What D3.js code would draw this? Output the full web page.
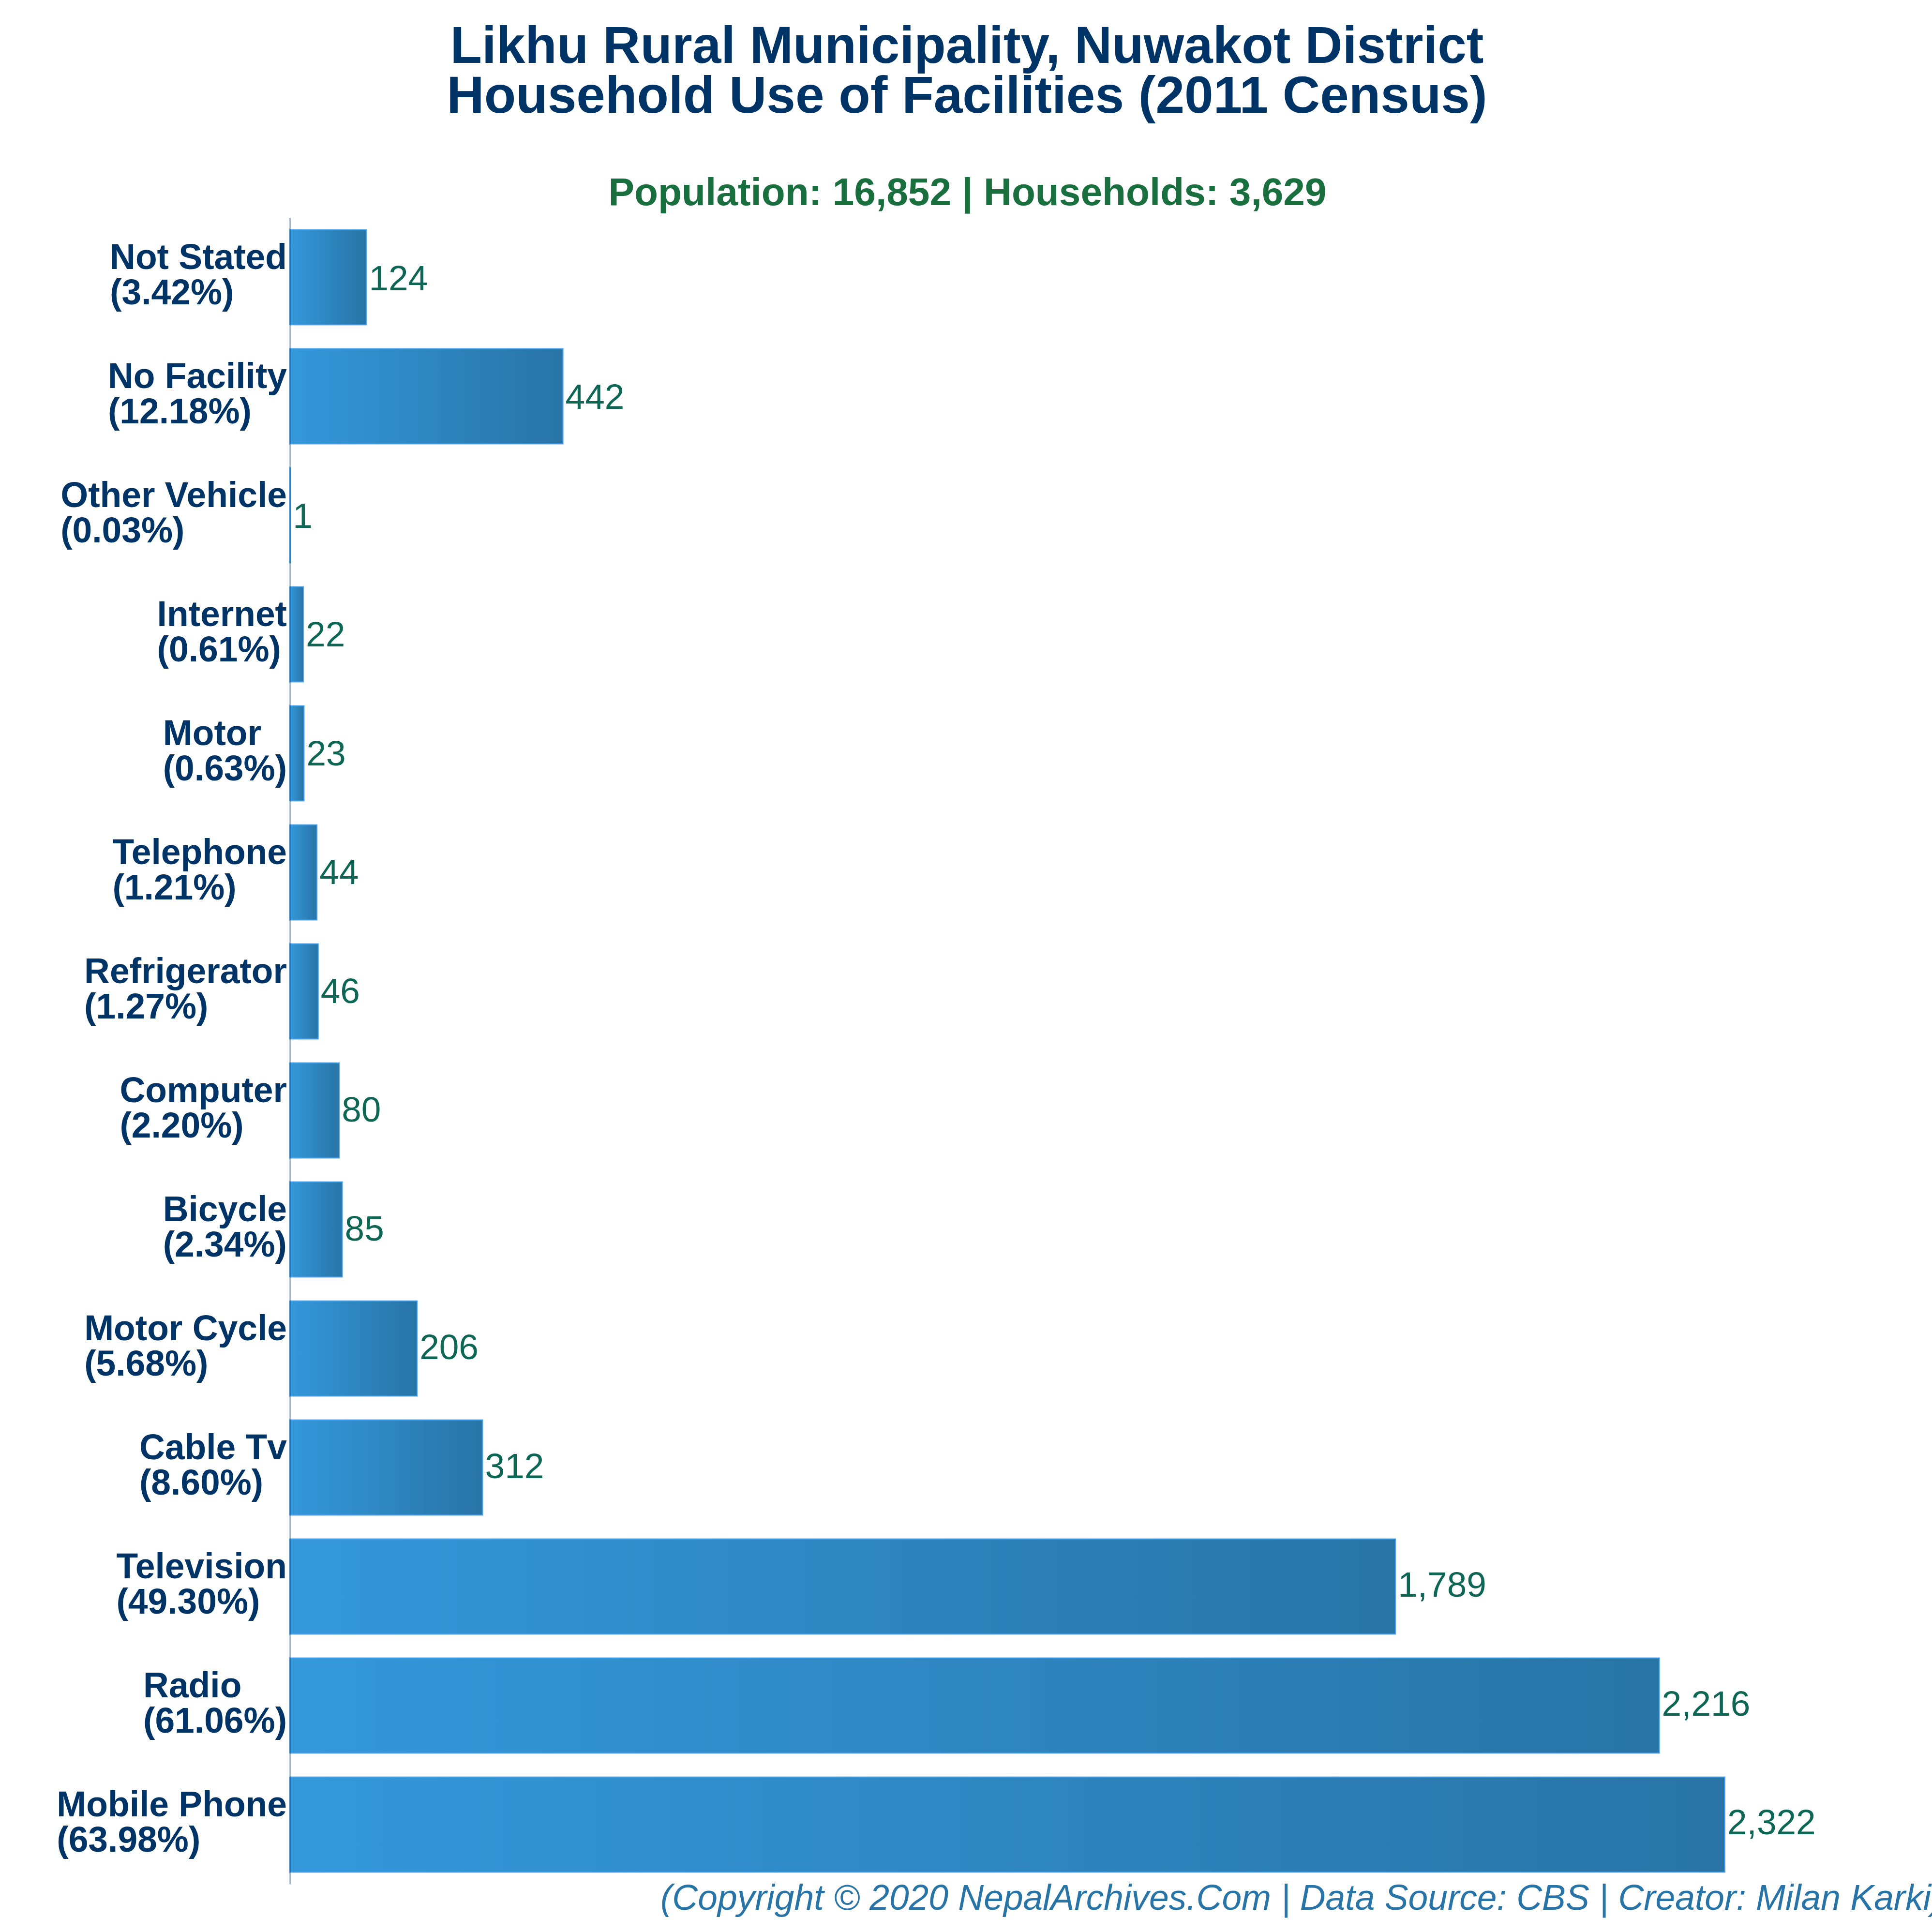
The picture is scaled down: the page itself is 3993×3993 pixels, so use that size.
<!DOCTYPE html>
<html>
<head>
<meta charset="utf-8">
<script src="https://cdn.jsdelivr.net/npm/d3@7"></script>
<style>
html,body{margin:0;padding:0;background:#fff;overflow:hidden}
svg{display:block}
text{font-family:"Liberation Sans",Arial,sans-serif}
</style>
</head>
<body>
<script>
const titleLines = ["Likhu Rural Municipality, Nuwakot District","Household Use of Facilities (2011 Census)"];
const subtitle = "Population: 16,852 | Households: 3,629";
const credit = "(Copyright © 2020 NepalArchives.Com | Data Source: CBS | Creator: Milan Karki)";
const categories = ["Not Stated","No Facility","Other Vehicle","Internet","Motor","Telephone","Refrigerator","Computer","Bicycle","Motor Cycle","Cable Tv","Television","Radio","Mobile Phone"];
const values = [124,442,1,22,23,44,46,80,85,206,312,1789,2216,2322];
const percents = ["3.42","12.18","0.03","0.61","0.63","1.21","1.27","2.20","2.34","5.68","8.60","49.30","61.06","63.98"];

const W = 3993, H = 3993;
const left = 599, top_ = 450, bottom = 3894;
const svg = d3.select("body").append("svg").attr("width",W).attr("height",H).attr("viewBox",`0 0 ${W} ${H}`);

const defs = svg.append("defs");
const grad = defs.append("linearGradient").attr("id","barGrad").attr("x1","0%").attr("x2","100%").attr("y1","0%").attr("y2","0%");
grad.append("stop").attr("offset","0%").attr("stop-color","#3498db");
grad.append("stop").attr("offset","100%").attr("stop-color","#2874a6");

const x = d3.scaleLinear().domain([0,2322]).range([left,3565]);
const y = d3.scaleBand().domain(categories).range([top_,bottom]).paddingInner(0.2).paddingOuter(0.1);
const yLabel = d3.scalePoint().domain(categories).range([599.5,3791.4]);

svg.selectAll("rect.bar").data(values).join("rect").attr("class","bar")
  .attr("x",x(0))
  .attr("y",(d,i)=>y(categories[i]))
  .attr("width",d=>x(d)-x(0))
  .attr("height",y.bandwidth())
  .attr("fill","url(#barGrad)")
  .attr("stroke","#4da6f0").attr("stroke-width",2);

const fmt = d3.format(",");
svg.selectAll("text.val").data(values).join("text").attr("class","val")
  .attr("x",d=>x(d)+5)
  .attr("y",(d,i)=>yLabel(categories[i]))
  .attr("font-size",73).attr("fill","#0e6655")
  .text(d=>fmt(d));

const axis = svg.append("g").attr("transform",`translate(${left},0)`)
  .call(d3.axisLeft(y).tickSize(0).tickPadding(6));
axis.select(".domain").attr("stroke","#0a3a6b").attr("stroke-width",1.6);
axis.selectAll(".tick text").each(function(c){
  const i = categories.indexOf(c);
  const t = d3.select(this).attr("font-size",73.2).attr("font-weight","bold").attr("fill","#003366")
    .attr("font-family",'"Liberation Sans",Arial,sans-serif').attr("dy",null).attr("text-anchor","start").text(null);
  const l1 = t.append("tspan").text(c);
  const l2 = t.append("tspan").text(`(${percents[i]}%)`);
  const w = Math.max(l1.node().getComputedTextLength(), l2.node().getComputedTextLength());
  l1.attr("x",-6-w).attr("y",-17);
  l2.attr("x",-6-w).attr("y",56);
});

const title = svg.append("text").attr("text-anchor","middle").attr("font-size",107.2)
  .attr("font-weight","bold").attr("fill","#003366");
title.selectAll("tspan").data(titleLines).join("tspan")
  .attr("x",W/2+2).attr("y",(d,i)=>130+i*103).text(d=>d);

svg.append("text").attr("x",W/2+3).attr("y",424).attr("text-anchor","middle")
  .attr("font-size",80.2).attr("font-weight","bold").attr("fill","#196f3d").text(subtitle);

svg.append("text").attr("x",1365).attr("y",3947)
  .attr("font-size",73.2).attr("font-style","italic").attr("fill","#2874a6").text(credit);
</script>
</body>
</html>
